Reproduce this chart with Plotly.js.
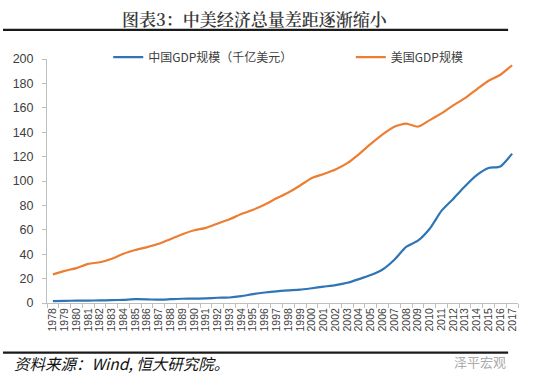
<!DOCTYPE html>
<html>
<head>
<meta charset="utf-8">
<script src="https://cdn.plot.ly/plotly-3.0.1.min.js"></script>
<style>html,body{margin:0;padding:0;background:#fff;}#chart{width:550px;height:388px;}</style>
</head>
<body>
<div id="chart"></div>
<script>
var years = ["1978","1979","1980","1981","1982","1983","1984","1985","1986","1987","1988","1989","1990","1991","1992","1993","1994","1995","1996","1997","1998","1999","2000","2001","2002","2003","2004","2005","2006","2007","2008","2009","2010","2011","2012","2013","2014","2015","2016","2017"];
var chinaGDP = [1.5,1.8,1.9,2.0,2.1,2.3,2.6,3.1,3.0,2.7,3.1,3.5,3.6,3.8,4.3,4.5,5.6,7.3,8.6,9.6,10.3,10.9,12.1,13.4,14.7,16.6,19.6,22.9,27.5,35.5,46.0,51.1,60.9,75.5,85.3,95.7,104.8,110.6,111.9,122.4];
var usGDP = [23.5,26.3,28.6,32.1,33.4,36.3,40.4,43.4,45.8,48.6,52.4,56.4,59.6,61.6,65.2,68.6,72.9,76.4,80.7,85.8,90.6,96.3,102.5,105.8,109.4,114.6,122.1,130.4,138.2,144.5,147.1,144.5,149.9,155.4,162.0,167.9,175.2,182.2,187.1,194.9];
var seriesNames = ["中国GDP规模（千亿美元）","美国GDP规模"];
var titleText = "图表3：中美经济总量差距逐渐缩小";
var sourceText = "资料来源：Wind, 恒大研究院。";
var watermarkText = "泽平宏观";

var font = "Liberation Sans, Arial, Noto Sans CJK SC, sans-serif";
var cjk = "Noto Sans CJK SC, sans-serif";

var traces = [
  {x: years, y: chinaGDP, name: seriesNames[0], type: "scatter", mode: "lines", legend: "legend",
   line: {color: "#2E75B6", width: 2.2, shape: "spline", smoothing: 0.6}},
  {x: years, y: usGDP, name: seriesNames[1], type: "scatter", mode: "lines", legend: "legend2",
   line: {color: "#ED7D31", width: 2.2, shape: "spline", smoothing: 0.6}}
];

var legendBase = {orientation: "h", yanchor: "middle", xanchor: "left",
  font: {family: cjk, size: 12, color: "#404040"}, bgcolor: "rgba(0,0,0,0)", itemwidth: 30};

var layout = {
  width: 550, height: 388,
  margin: {l: 47, r: 32, t: 59, b: 85, pad: 0},
  paper_bgcolor: "#fff", plot_bgcolor: "#fff",
  font: {family: font, color: "#404040"},
  showlegend: true,
  legend: Object.assign({}, legendBase, {x: 0.13, y: 1.008}),
  legend2: Object.assign({}, legendBase, {x: 0.645, y: 1.008}),
  xaxis: {type: "category", tickson: "boundaries", ticks: "outside", ticklen: 4,
          tickcolor: "#BFBFBF", showline: true, linecolor: "#BFBFBF", linewidth: 1,
          showgrid: false, zeroline: false, tickangle: -90, tickmode: "linear", dtick: 1,
          tickfont: {family: font, size: 10.5, color: "#404040"}, range: [-0.5, 39.5]},
  yaxis: {range: [0, 200], dtick: 20, ticks: "outside", ticklen: 4, tickcolor: "#BFBFBF",
          showline: true, linecolor: "#BFBFBF", linewidth: 1, showgrid: false, zeroline: false,
          tickfont: {family: font, size: 12.5, color: "#404040"}, ticklabelstandoff: 6},
  shapes: [
    {type: "line", xref: "paper", yref: "paper", x0: -0.0934, x1: 0.979, y0: 1.119, y1: 1.119,
     line: {color: "#1a1a1a", width: 2.2}},
    {type: "line", xref: "paper", yref: "paper", x0: -0.0934, x1: 0.979, y0: -0.2037, y1: -0.2037,
     line: {color: "#1a1a1a", width: 2.2}}
  ],
  annotations: [
    {text: titleText, xref: "paper", yref: "paper", x: 0.4416, y: 1.164, xanchor: "center", yanchor: "middle",
     showarrow: false, font: {family: "Noto Serif CJK SC, " + cjk, size: 17, color: "#383838", weight: 600}},
    {text: "<i>" + sourceText + "</i>", xref: "paper", yref: "paper", x: -0.0743, y: -0.2447, xanchor: "left", yanchor: "middle",
     showarrow: false, font: {family: cjk, size: 15.5, color: "#111"}},
    {text: watermarkText, xref: "paper", yref: "paper", x: 0.979, y: -0.2418, xanchor: "right", yanchor: "middle",
     showarrow: false, font: {family: cjk, size: 13, color: "#aaa"}}
  ]
};

Plotly.newPlot("chart", traces, layout, {displayModeBar: false, staticPlot: true});
</script>
</body>
</html>
